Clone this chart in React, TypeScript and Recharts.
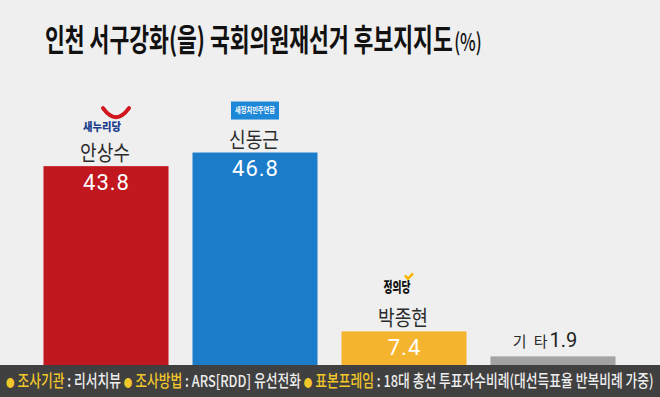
import { useLayoutEffect, useRef, useState } from 'react';
import { BarChart, Bar, XAxis, YAxis, Cell } from 'recharts';

const candidates = ['안상수', '신동근', '박종현', '기 타'];
const parties = ['새누리당', '새정치민주연합', '정의당', ''];
const support = [43.8, 46.8, 7.4, 1.9];
const barColors = ['#c1171e', '#1b7cc9', '#f5b42e', '#a3a3a3'];

const footerLabels = ['조사기관', '조사방법', '표본프레임'];
const footerValues = ['리서치뷰', 'ARS[RDD] 유선전화', '18대 총선 투표자수비례(대선득표율 반복비례 가중)'];

const data = candidates.map((name, i) => ({ name, party: parties[i], value: support[i] }));

const KR = '"Noto Sans CJK KR", "Noto Sans", sans-serif';
const NUM = 'Roboto, "Noto Sans", sans-serif';

// squeezes a text horizontally to a given width (the original uses a condensed face)
function FitText({ x, y, width, children, ...rest }: any) {
  const ref = useRef<SVGTextElement>(null);
  const [k, setK] = useState(1);
  useLayoutEffect(() => {
    if (ref.current) {
      const w = ref.current.getBBox().width;
      if (w > 0) setK(width / w);
    }
  }, [width]);
  return (
    <text ref={ref} transform={`translate(${x} ${y}) scale(${k} 1)`} {...rest}>
      {children}
    </text>
  );
}

function PartyMark({ party, cx, top }: { party: string; cx: number; top: number }) {
  if (party === '새누리당') {
    return (
      <g>
        <path
          d={`M${cx - 3} ${top - 58} Q${cx + 10} ${top - 40} ${cx + 23} ${top - 58}`}
          stroke="#d0161f"
          strokeWidth={4}
          fill="none"
          strokeLinecap="round"
        />
        <text x={cx - 4} y={top - 35} textAnchor="middle" fontFamily={KR} fontSize={11} fontWeight={900}
          fill="#1d3f8f" textLength={38} lengthAdjust="spacingAndGlyphs">
          {party}
        </text>
      </g>
    );
  }
  if (party === '새정치민주연합') {
    return (
      <g>
        <rect x={cx - 24} y={top - 51} width={48} height={18} fill="#1e88d8" />
        <text x={cx} y={top - 39.5} textAnchor="middle" fontFamily={KR} fontSize={7.5} fontWeight={700}
          fill="#fff" textLength={40} lengthAdjust="spacingAndGlyphs">
          {party}
        </text>
      </g>
    );
  }
  if (party === '정의당') {
    return (
      <g>
        <path
          d={`M${cx + 1} ${top - 56} L${cx + 4} ${top - 52.5} L${cx + 9} ${top - 58}`}
          stroke="#f5b800"
          strokeWidth={2.5}
          fill="none"
        />
        <text x={cx - 7} y={top - 39} textAnchor="middle" fontFamily={KR} fontSize={14} fontWeight={900}
          fill="#111" textLength={27} lengthAdjust="spacingAndGlyphs">
          {party}
        </text>
      </g>
    );
  }
  return null;
}

function CandidateBar(props: any) {
  const { x, y, width, height, fill, payload } = props;
  const cx = x + width / 2;
  const isOther = !payload.party;
  return (
    <g>
      <rect x={x} y={y} width={width} height={height} fill={fill} />
      {isOther ? (
        <text x={cx - 8} y={y - 9} textAnchor="middle" fill="#2b2b2b">
          <tspan fontFamily={KR} fontSize={15} letterSpacing={2}>{payload.name}</tspan>
          <tspan fontFamily={NUM} fontSize={20} fill="#222">{payload.value}</tspan>
        </text>
      ) : (
        <g>
          <PartyMark party={payload.party} cx={cx} top={y} />
          <text x={cx - 1} y={y - 6} textAnchor="middle" fontFamily={KR} fontSize={21} fill="#2b2b2b"
            textLength={50} lengthAdjust="spacingAndGlyphs">
            {payload.name}
          </text>
          <text x={cx + 0.5} y={y + 23.5} textAnchor="middle" fontFamily={NUM} fontSize={22}
            fill="#fff" letterSpacing={1}>
            {payload.value}
          </text>
        </g>
      )}
    </g>
  );
}

export default function App() {
  return (
    <div style={{ position: 'absolute', left: 0, top: 0, width: 660, height: 397, background: '#efefef', overflow: 'hidden' }}>
      <svg width={660} height={70} style={{ position: 'absolute', left: 0, top: 0 }}>
        <FitText x={45} y={51} width={437} fontFamily={KR} fontWeight={700} fill="#111">
          <tspan fontSize={31}>인천 서구강화(을) 국회의원재선거 후보지지도</tspan>
          <tspan fontSize={24} fontWeight={500} dx={2}>(%)</tspan>
        </FitText>
      </svg>
      <div style={{ position: 'absolute', left: 0, top: 0 }}>
        <BarChart width={660} height={397} data={data} margin={{ top: 138, right: 32.5, bottom: 32, left: 31.5 }}>
          <XAxis dataKey="name" type="category" hide />
          <YAxis type="number" domain={[0, 50]} hide />
          <Bar dataKey="value" barSize={125} shape={CandidateBar} isAnimationActive={false}>
            {data.map((d, i) => (
              <Cell key={d.name} fill={barColors[i]} />
            ))}
          </Bar>
        </BarChart>
      </div>
      <div style={{ position: 'absolute', left: 0, top: 365, width: 660, height: 32, background: '#404040' }}>
        <svg width={660} height={32}>
          <FitText x={6} y={21.5} width={648} fontFamily={KR} fontSize={16.5} fontWeight={500} fill="#eeeeee">
            {footerLabels.flatMap((label, i) => [
              <tspan key={label + 'b'} fill="#f2c72a" fontSize={11}>●</tspan>,
              <tspan key={label + 'l'} fill="#f2c72a">{' ' + label}</tspan>,
              <tspan key={label + 'v'}>{' : ' + footerValues[i] + (i < footerLabels.length - 1 ? ' ' : '')}</tspan>,
            ])}
          </FitText>
        </svg>
      </div>
    </div>
  );
}
